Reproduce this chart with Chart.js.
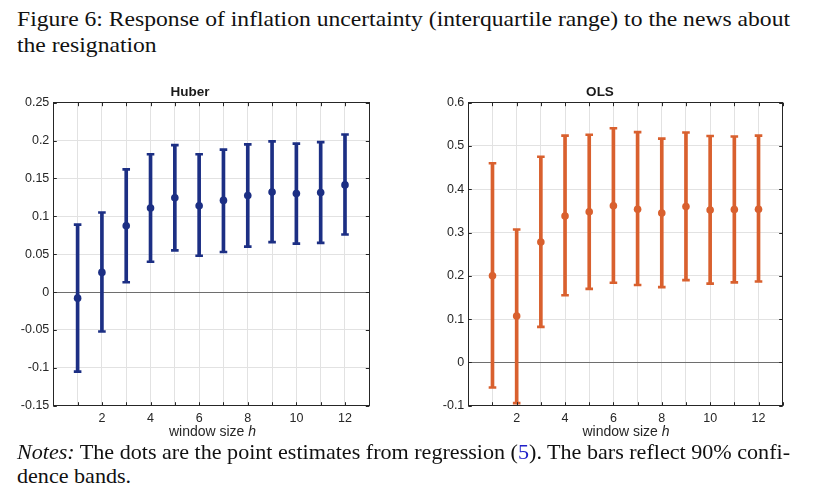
<!DOCTYPE html>
<html><head><meta charset="utf-8">
<script src="https://cdn.jsdelivr.net/npm/chart.js@4/dist/chart.umd.min.js"></script>
<style>
html,body{margin:0;padding:0;background:#fff;width:840px;height:493px;overflow:hidden;}
.txt{position:absolute;left:17px;white-space:nowrap;font-family:"Liberation Serif","Times New Roman",serif;color:#111;transform-origin:0 0;line-height:1;}
.box{position:absolute;}
.axt{position:absolute;white-space:nowrap;font-family:"Liberation Sans",Arial,sans-serif;font-size:14px;line-height:1;color:#262626;transform:translateX(-50%);}
</style></head><body>
<div class="txt" id="t1" style="top:8.3px;font-size:22px">Figure 6: Response of inflation uncertainty (interquartile range) to the news about</div>
<div class="txt" id="t2" style="top:34.3px;font-size:22px">the resignation</div>
<div class="box" style="left:0;top:82px;width:380px;height:360px"><canvas id="c1" width="380" height="360"></canvas></div>
<div class="box" style="left:410px;top:82px;width:380px;height:360px"><canvas id="c2" width="380" height="360"></canvas></div>
<div class="axt" style="left:212.5px;top:423.9px">window size <i>h</i></div>
<div class="axt" style="left:626px;top:423.9px">window size <i>h</i></div>
<div class="txt" id="n1" style="top:442.4px;font-size:21px"><i>Notes:</i> The dots are the point estimates from regression (<span style="color:#2020c8">5</span>). The bars reflect 90% confi-</div>
<div class="txt" id="n2" style="top:466.4px;font-size:21px">dence bands.</div>
<script>
// ---------- data ----------
const windowSizes = [1,2,3,4,5,6,7,8,9,10,11,12];

const huberPoint = [-0.008, 0.026, 0.0875, 0.111, 0.1245, 0.114, 0.121, 0.1275, 0.132, 0.130, 0.1315, 0.1415];
const huberUpper = [0.089, 0.105, 0.162, 0.182, 0.194, 0.182, 0.188, 0.195, 0.199, 0.196, 0.198, 0.208];
const huberLower = [-0.105, -0.052, 0.013, 0.040, 0.055, 0.048, 0.053, 0.060, 0.066, 0.064, 0.065, 0.076];

const olsPoint = [0.200, 0.107, 0.278, 0.338, 0.348, 0.362, 0.354, 0.345, 0.360, 0.352, 0.353, 0.354];
const olsUpper = [0.460, 0.307, 0.475, 0.524, 0.526, 0.541, 0.532, 0.517, 0.531, 0.523, 0.522, 0.524];
const olsLower = [-0.058, -0.094, 0.082, 0.155, 0.170, 0.184, 0.179, 0.174, 0.190, 0.182, 0.185, 0.187];

const huberYTicks = [-0.15, -0.1, -0.05, 0, 0.05, 0.1, 0.15, 0.2, 0.25];
const huberYLabels = ['-0.15', '-0.1', '-0.05', '0', '0.05', '0.1', '0.15', '0.2', '0.25'];
const olsYTicks = [-0.1, 0, 0.1, 0.2, 0.3, 0.4, 0.5, 0.6];
const olsYLabels = ['-0.1', '0', '0.1', '0.2', '0.3', '0.4', '0.5', '0.6'];
const xTickLabels = ['2', '4', '6', '8', '10', '12'];

// ---------- fit text widths ----------
function fit(ids, target){
  const el = document.getElementById(ids[0]);
  const s = target / el.getBoundingClientRect().width;
  ids.forEach(id => document.getElementById(id).style.transform = 'scaleX(' + s + ')');
}
fit(['t1','t2'], 773);
fit(['n1','n2'], 773);

// ---------- plugin: inward tick marks ----------
const inwardTicks = {
  id: 'inwardTicks',
  afterDatasetsDraw(chart){
    const {ctx, chartArea: a, scales} = chart;
    ctx.save();
    ctx.strokeStyle = '#262626';
    ctx.lineWidth = 1;
    ctx.beginPath();
    scales.x.ticks.forEach(t => {
      const p = Math.round(scales.x.getPixelForValue(t.value)) + 0.5;
      ctx.moveTo(p, a.bottom); ctx.lineTo(p, a.bottom - 3.5);
      ctx.moveTo(p, a.top); ctx.lineTo(p, a.top + 3.5);
    });
    scales.y.ticks.forEach(t => {
      const p = Math.round(scales.y.getPixelForValue(t.value)) + 0.5;
      ctx.moveTo(a.left, p); ctx.lineTo(a.left + 3.5, p);
      ctx.moveTo(a.right, p); ctx.lineTo(a.right - 3.5, p);
    });
    ctx.stroke();
    ctx.restore();
  }
};

function makeChart(id, title, color, point, upper, lower, yTicks, yLabels, leftW, rightW){
  const xs = windowSizes;
  const border = {display: true, color: '#262626', width: 1};
  const font = {family: "'Liberation Sans', Arial, sans-serif", size: 12.5};
  return new Chart(document.getElementById(id), {
    type: 'bar',
    data: {
      datasets: [
        {
          type: 'bar',
          data: xs.map((x, i) => ({x: x, y: [lower[i], upper[i]]})),
          backgroundColor: color, borderWidth: 0, barThickness: 3, order: 3
        },
        {
          type: 'line', showLine: false,
          data: xs.map((x, i) => ({x: x, y: upper[i]})).concat(xs.map((x, i) => ({x: x, y: lower[i]}))),
          pointStyle: 'line', pointRadius: 3.8, pointBorderWidth: 2.6, borderColor: color, pointBorderColor: color, order: 2
        },
        {
          type: 'line', showLine: false,
          data: xs.map((x, i) => ({x: x, y: point[i]})),
          pointStyle: 'circle', pointRadius: 3.8, pointBorderWidth: 0, pointBackgroundColor: color, borderColor: color, order: 1
        }
      ]
    },
    options: {
      responsive: false, animation: false,
      layout: {padding: 0},
      plugins: {
        legend: {display: false}, tooltip: {enabled: false},
        title: {display: true, text: title, color: '#1a1a1a',
                font: {family: "'Liberation Sans', Arial, sans-serif", size: 13.5, weight: 'bold'},
                padding: {top: 2.2, bottom: 0}}
      },
      scales: {
        x: {
          type: 'linear', position: 'bottom', min: 0, max: 13, offset: false,
          grid: {offset: false, color: '#e2e2e2', drawTicks: false},
          border: border,
          ticks: {stepSize: 1, padding: 5, color: '#262626', font: font, autoSkip: false, maxRotation: 0,
                  callback: (v) => xTickLabels.includes(String(v)) ? String(v) : ''},
          afterFit: s => { s.height = 36.3; }
        },
        x2: {
          type: 'linear', axis: 'x', position: 'top', min: 0, max: 13, offset: false,
          grid: {display: false, drawTicks: false}, border: border,
          ticks: {display: false},
          afterFit: s => { s.height = 2.3; }
        },
        y: {
          type: 'linear', position: 'left', min: yTicks[0], max: yTicks[yTicks.length - 1],
          grid: {drawTicks: false, color: c => (c.tick && c.tick.value === 0) ? '#6e6e6e' : '#e2e2e2'},
          border: border,
          afterBuildTicks: s => { s.ticks = yTicks.map(v => ({value: v})); },
          ticks: {padding: 4, color: '#262626', font: font, callback: (v, i) => yLabels[i]},
          afterFit: s => { s.width = leftW; }
        },
        y2: {
          type: 'linear', axis: 'y', position: 'right', min: yTicks[0], max: yTicks[yTicks.length - 1],
          grid: {display: false, drawTicks: false}, border: border,
          ticks: {display: false},
          afterFit: s => { s.width = rightW; }
        }
      }
    },
    plugins: [inwardTicks]
  });
}

makeChart('c1', 'Huber', '#1c2f84', huberPoint, huberUpper, huberLower, huberYTicks, huberYLabels, 53.3, 10.7);
makeChart('c2', 'OLS', '#d9602e', olsPoint, olsUpper, olsLower, olsYTicks, olsYLabels, 58.3, 7.3);
</script>
</body></html>
